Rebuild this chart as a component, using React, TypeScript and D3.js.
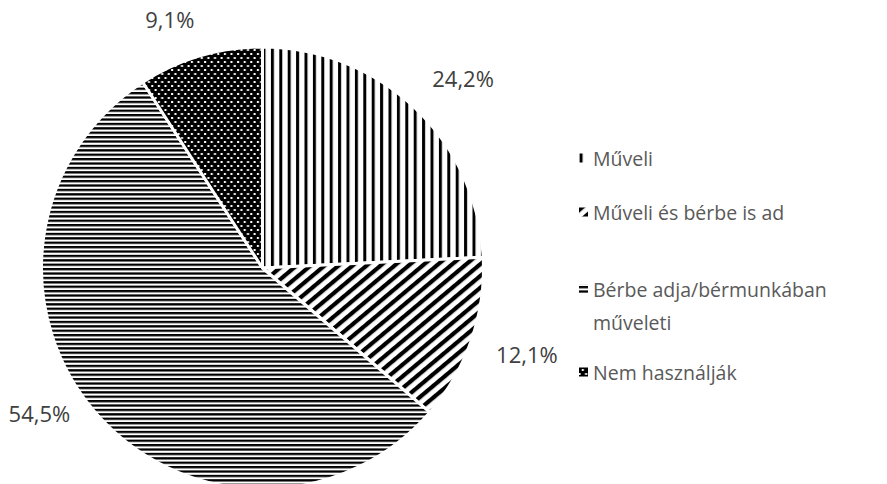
import React, { useEffect, useRef } from 'react';
import * as d3 from 'd3';

const categories = ['Műveli', 'Műveli és bérbe is ad', 'Bérbe adja/bérmunkában műveleti', 'Nem használják'];
const legendLines = [['Műveli'], ['Műveli és bérbe is ad'], ['Bérbe adja/bérmunkában', 'műveleti'], ['Nem használják']];
const values = [24.2, 12.1, 54.5, 9.1];
const valueLabels = ['24,2%', '12,1%', '54,5%', '9,1%'];
const patternIds = ['pVert', 'pDiag', 'pHoriz', 'pDots'];

// label placement tweaks (radius, angle shift in degrees)
const labelRadius = [276, 278, 266, 266];
const labelShift = [3, -1, 8, -4];
// legend rows (y of first line)
const legendRowY = [158, 212, 289, 372];

const W = 887;
const H = 484;
const FONT = '"Open Sans", "Noto Sans", sans-serif';
const TEXT = '#595959';

export default function App() {
  const svgRef = useRef<SVGSVGElement>(null);

  useEffect(() => {
    const svg = d3.select(svgRef.current);
    svg.selectAll('*').remove();

    const defs = svg.append('defs');

    // vertical lines
    const pv = defs.append('pattern').attr('id', 'pVert').attr('patternUnits', 'userSpaceOnUse')
      .attr('width', 8.4).attr('height', 8);
    pv.append('rect').attr('width', 8.4).attr('height', 8).attr('fill', '#fff');
    pv.append('rect').attr('x', 0).attr('width', 3).attr('height', 8).attr('fill', '#000');

    // wide diagonal
    const pd = defs.append('pattern').attr('id', 'pDiag').attr('patternUnits', 'userSpaceOnUse')
      .attr('width', 9).attr('height', 9).attr('patternTransform', 'rotate(-40)');
    pd.append('rect').attr('width', 9).attr('height', 9).attr('fill', '#fff');
    pd.append('rect').attr('y', 0).attr('width', 9).attr('height', 4.2).attr('fill', '#000');

    // narrow horizontal
    const ph = defs.append('pattern').attr('id', 'pHoriz').attr('patternUnits', 'userSpaceOnUse')
      .attr('width', 8).attr('height', 4.4);
    ph.append('rect').attr('width', 8).attr('height', 4.4).attr('fill', '#fff');
    ph.append('rect').attr('width', 8).attr('height', 2.3).attr('fill', '#000');

    // black with white dots, staggered
    const pdot = defs.append('pattern').attr('id', 'pDots').attr('patternUnits', 'userSpaceOnUse')
      .attr('width', 6.6).attr('height', 8);
    pdot.append('rect').attr('width', 6.6).attr('height', 8).attr('fill', '#000');
    pdot.append('rect').attr('x', 1).attr('y', 1).attr('width', 2).attr('height', 2).attr('fill', '#fff');
    pdot.append('rect').attr('x', 4.3).attr('y', 5).attr('width', 2).attr('height', 2).attr('fill', '#fff');

    const cx = 262.5;
    const cy = 268;
    const r = 221;

    const data = categories.map((c, i) => ({ c, v: values[i], i }));
    const pie = d3.pie<any>().sort(null).value(d => d.v);
    const arcs = pie(data);
    const arc = d3.arc<any>().innerRadius(0).outerRadius(r);

    const g = svg.append('g').attr('transform', `translate(${cx},${cy})`);
    g.selectAll('path')
      .data(arcs)
      .join('path')
      .attr('d', arc)
      .attr('fill', d => `url(#${patternIds[d.data.i]})`)
      .attr('stroke', '#fff')
      .attr('stroke-width', 3)
      .attr('stroke-linejoin', 'round');

    const labelPos = (d: any) => {
      const a = (d.startAngle + d.endAngle) / 2 + (labelShift[d.data.i] * Math.PI) / 180;
      const lr = labelRadius[d.data.i];
      return [Math.sin(a) * lr, -Math.cos(a) * lr];
    };

    g.selectAll('text.lbl')
      .data(arcs)
      .join('text')
      .attr('class', 'lbl')
      .attr('x', d => labelPos(d)[0])
      .attr('y', d => labelPos(d)[1])
      .attr('text-anchor', 'middle')
      .attr('dominant-baseline', 'central')
      .attr('font-family', FONT)
      .attr('font-size', 22)
      .attr('fill', '#404040')
      .text(d => valueLabels[d.data.i]);

    // legend
    const leg = svg.append('g');
    legendLines.forEach((lines, i) => {
      const y = legendRowY[i];
      leg.append('rect')
        .attr('x', 579).attr('y', y - 4.5).attr('width', 9).attr('height', 9)
        .attr('fill', `url(#${patternIds[i]})`);
      lines.forEach((ln, k) => {
        leg.append('text')
          .attr('x', 593).attr('y', y + k * 33)
          .attr('font-family', FONT)
          .attr('font-size', 19.5)
          .attr('fill', TEXT)
          .attr('dominant-baseline', 'central')
          .text(ln);
      });
    });
  }, []);

  return (
    <svg ref={svgRef} width={W} height={H} style={{ position: 'absolute', left: 0, top: 0, background: '#fff' }} />
  );
}
